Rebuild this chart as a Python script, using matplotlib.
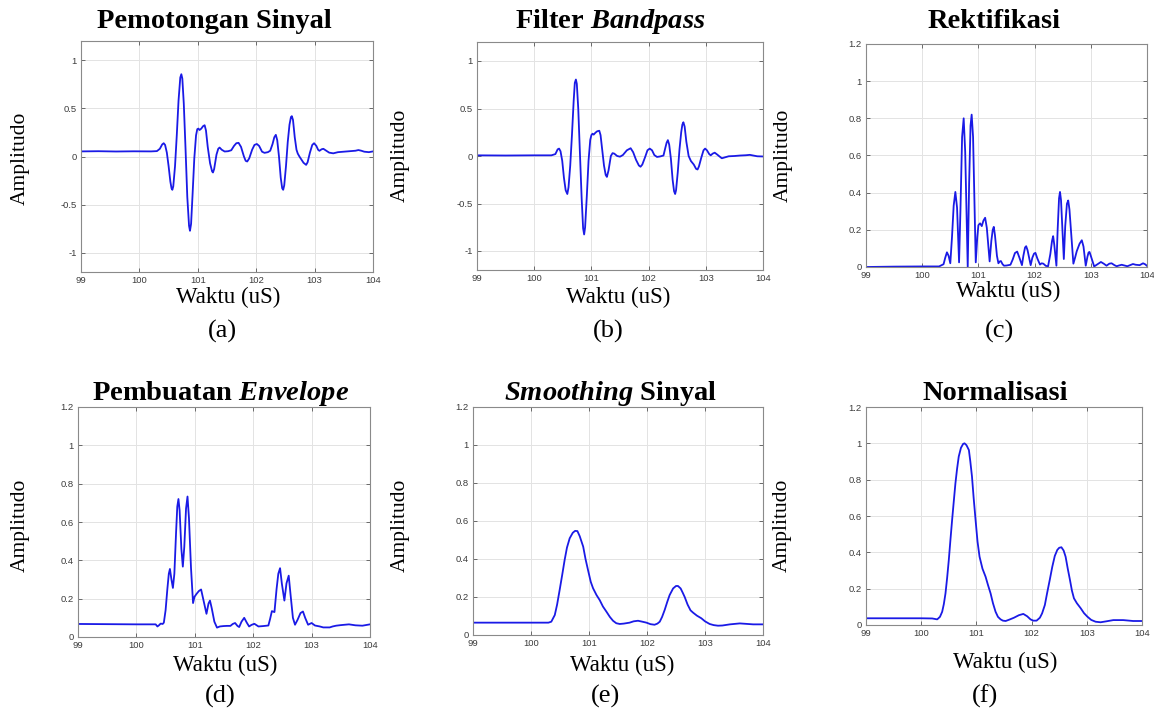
import matplotlib
matplotlib.use("Agg")
import matplotlib.pyplot as plt
from matplotlib.ticker import FormatStrFormatter

plt.rcParams['mathtext.fontset'] = 'custom'
plt.rcParams['mathtext.rm'] = 'Liberation Serif'
plt.rcParams['mathtext.it'] = 'Liberation Serif:italic'
plt.rcParams['mathtext.bf'] = 'Liberation Serif:bold'
plt.rcParams['mathtext.bfit'] = 'Liberation Serif:bold:italic'

# ---------------- data ----------------
t_a = [99.0, 99.3, 99.6, 99.9, 100.2, 100.3, 100.35, 100.39, 100.416, 100.44, 100.47, 100.5, 100.53, 100.55,
       100.564, 100.58, 100.61, 100.64, 100.67, 100.7, 100.718, 100.735, 100.76, 100.79, 100.82, 100.85,
       100.866, 100.885, 100.91, 100.94, 100.97, 100.991, 101.01, 101.03, 101.06, 101.09, 101.117, 101.14,
       101.17, 101.21, 101.245, 101.26, 101.28, 101.32, 101.35, 101.373, 101.41, 101.46, 101.52, 101.573,
       101.62, 101.66, 101.698, 101.74, 101.79, 101.82, 101.846, 101.88, 101.93, 101.97, 102.011, 102.05,
       102.1, 102.142, 102.2, 102.24, 102.28, 102.31, 102.336, 102.36, 102.39, 102.42, 102.445, 102.462,
       102.48, 102.51, 102.54, 102.57, 102.595, 102.61, 102.63, 102.66, 102.69, 102.712, 102.74, 102.77,
       102.81, 102.855, 102.88, 102.92, 102.96, 102.991, 103.03, 103.06, 103.083, 103.12, 103.15, 103.2,
       103.25, 103.32, 103.4, 103.5, 103.6, 103.7, 103.75, 103.8, 103.85, 103.93, 104.0]
v_a = [0.053, 0.055, 0.052, 0.054, 0.053, 0.056, 0.08, 0.125, 0.138, 0.12, 0.04, -0.10, -0.26, -0.33,
       -0.346, -0.31, -0.10, 0.22, 0.58, 0.82, 0.855, 0.81, 0.55, 0.08, -0.42, -0.72,
       -0.772, -0.70, -0.40, -0.02, 0.22, 0.284, 0.29, 0.275, 0.29, 0.315, 0.325, 0.27,
       0.10, -0.07, -0.155, -0.166, -0.13, 0.02, 0.08, 0.093, 0.07, 0.052, 0.055, 0.065,
       0.11, 0.138, 0.142, 0.10, 0.0, -0.045, -0.052, -0.02, 0.07, 0.12, 0.13, 0.11,
       0.05, 0.038, 0.045, 0.06, 0.13, 0.20, 0.225, 0.17, 0.0, -0.22, -0.33, -0.346,
       -0.30, -0.10, 0.15, 0.33, 0.41, 0.419, 0.38, 0.20, 0.07, 0.03, 0.0, -0.028,
       -0.065, -0.087, -0.06, 0.04, 0.12, 0.138, 0.11, 0.07, 0.059, 0.075, 0.08, 0.06,
       0.04, 0.033, 0.045, 0.05, 0.055, 0.06, 0.067, 0.06, 0.05, 0.045, 0.053]

t_b = [99.0, 99.5, 100.0, 100.3, 100.37, 100.41, 100.435, 100.46, 100.49, 100.52, 100.55, 100.579, 100.6,
       100.63, 100.66, 100.69, 100.71, 100.729, 100.745, 100.77, 100.8, 100.83, 100.855, 100.873, 100.89,
       100.92, 100.95, 100.98, 101.0, 101.02, 101.04, 101.07, 101.1, 101.138, 101.16, 101.19, 101.22,
       101.25, 101.271, 101.3, 101.34, 101.37, 101.4, 101.45, 101.5, 101.55, 101.62, 101.686, 101.73,
       101.78, 101.83, 101.859, 101.89, 101.94, 101.98, 102.02, 102.06, 102.1, 102.147, 102.2, 102.26,
       102.29, 102.315, 102.337, 102.36, 102.39, 102.42, 102.445, 102.464, 102.48, 102.51, 102.54, 102.57,
       102.59, 102.608, 102.63, 102.66, 102.7, 102.74, 102.79, 102.83, 102.856, 102.88, 102.92, 102.96,
       102.988, 103.02, 103.06, 103.086, 103.12, 103.156, 103.2, 103.23, 103.28, 103.33, 103.4, 103.5,
       103.6, 103.7, 103.77, 103.83, 103.9, 104.0]
v_b = [0.007, 0.005, 0.007, 0.007, 0.02, 0.07, 0.078, 0.05, -0.05, -0.23, -0.36, -0.40, -0.33,
       -0.10, 0.22, 0.58, 0.77, 0.805, 0.76, 0.50, 0.02, -0.45, -0.76, -0.826, -0.75,
       -0.42, -0.05, 0.17, 0.22, 0.235, 0.225, 0.245, 0.26, 0.266, 0.22, 0.06, -0.10,
       -0.20, -0.22, -0.15, 0.0, 0.03, 0.025, 0.0, -0.007, 0.01, 0.06, 0.082, 0.04,
       -0.04, -0.10, -0.113, -0.09, -0.01, 0.06, 0.078, 0.06, 0.01, -0.01, -0.005, 0.005,
       0.08, 0.14, 0.167, 0.12, -0.03, -0.25, -0.37, -0.40, -0.36, -0.17, 0.07, 0.25,
       0.33, 0.355, 0.31, 0.15, 0.0, -0.053, -0.09, -0.135, -0.142, -0.11, -0.02, 0.06,
       0.078, 0.06, 0.02, 0.007, 0.025, 0.035, 0.015, 0.0, -0.024, -0.015, -0.003, 0.0,
       0.005, 0.008, 0.012, 0.005, -0.003, -0.005]

t_c = [99.0, 99.5, 100.0, 100.3, 100.38, 100.41, 100.44, 100.47, 100.5, 100.53, 100.56, 100.59, 100.62,
       100.656, 100.68, 100.71, 100.738, 100.765, 100.81, 100.835, 100.86, 100.88, 100.905, 100.953, 100.98,
       101.0, 101.03, 101.06, 101.09, 101.12, 101.15, 101.2, 101.23, 101.255, 101.274, 101.295, 101.33,
       101.356, 101.38, 101.4, 101.43, 101.455, 101.5, 101.57, 101.61, 101.65, 101.69, 101.73, 101.775,
       101.8, 101.83, 101.85, 101.875, 101.93, 101.96, 101.99, 102.015, 102.05, 102.096, 102.125, 102.155,
       102.2, 102.24, 102.28, 102.31, 102.33, 102.35, 102.388, 102.41, 102.435, 102.452, 102.47, 102.52,
       102.545, 102.575, 102.598, 102.62, 102.69, 102.72, 102.75, 102.8, 102.84, 102.87, 102.91, 102.94,
       102.96, 102.977, 103.0, 103.06, 103.12, 103.18, 103.23, 103.28, 103.33, 103.37, 103.42, 103.46,
       103.5, 103.55, 103.6, 103.65, 103.7, 103.75, 103.8, 103.87, 103.93, 103.97, 104.0]
v_c = [0.0, 0.002, 0.003, 0.003, 0.015, 0.05, 0.079, 0.06, 0.02, 0.16, 0.33, 0.404, 0.32,
       0.025, 0.30, 0.70, 0.80, 0.62, 0.0, 0.45, 0.76, 0.82, 0.70, 0.025, 0.16,
       0.225, 0.235, 0.22, 0.25, 0.265, 0.21, 0.03, 0.14, 0.20, 0.216, 0.17, 0.06,
       0.02, 0.03, 0.032, 0.015, 0.007, 0.008, 0.012, 0.04, 0.075, 0.083, 0.05, 0.01,
       0.06, 0.105, 0.112, 0.09, 0.01, 0.05, 0.072, 0.076, 0.045, 0.013, 0.02, 0.018,
       0.006, 0.004, 0.07, 0.14, 0.166, 0.12, 0.007, 0.20, 0.37, 0.404, 0.36, 0.043,
       0.22, 0.34, 0.358, 0.31, 0.018, 0.05, 0.085, 0.125, 0.144, 0.11, 0.007, 0.055,
       0.078, 0.081, 0.06, 0.003, 0.015, 0.027, 0.018, 0.007, 0.018, 0.02, 0.01, 0.004,
       0.008, 0.012, 0.008, 0.004, 0.01, 0.016, 0.012, 0.01, 0.02, 0.014, 0.006]

t_d = [99.0, 99.5, 100.0, 100.33, 100.36, 100.39, 100.415, 100.45, 100.47, 100.5, 100.53, 100.555, 100.574,
       100.6, 100.625, 100.65, 100.68, 100.7, 100.72, 100.74, 100.77, 100.795, 100.82, 100.85, 100.875,
       100.9, 100.935, 100.97, 100.995, 101.03, 101.07, 101.108, 101.15, 101.2, 101.235, 101.26, 101.29,
       101.335, 101.38, 101.43, 101.49, 101.55, 101.61, 101.65, 101.69, 101.73, 101.76, 101.8, 101.846,
       101.89, 101.93, 101.97, 102.02, 102.09, 102.17, 102.26, 102.29, 102.32, 102.364, 102.4, 102.43,
       102.46, 102.49, 102.534, 102.57, 102.608, 102.64, 102.68, 102.716, 102.76, 102.81, 102.852, 102.89,
       102.94, 103.0, 103.057, 103.14, 103.2, 103.31, 103.36, 103.42, 103.5, 103.64, 103.75, 103.87, 104.0]
v_d = [0.068, 0.067, 0.066, 0.066, 0.055, 0.062, 0.07, 0.068, 0.075, 0.14, 0.25, 0.33, 0.355,
       0.30, 0.256, 0.33, 0.55, 0.68, 0.72, 0.66, 0.46, 0.367, 0.47, 0.67, 0.733,
       0.62, 0.36, 0.177, 0.21, 0.225, 0.24, 0.248, 0.19, 0.121, 0.175, 0.19, 0.15,
       0.08, 0.049, 0.055, 0.057, 0.058, 0.058, 0.068, 0.073, 0.058, 0.052, 0.08, 0.10,
       0.075, 0.055, 0.063, 0.069, 0.055, 0.057, 0.06, 0.095, 0.135, 0.13, 0.25, 0.33,
       0.359, 0.28, 0.19, 0.28, 0.32, 0.22, 0.10, 0.064, 0.09, 0.125, 0.133, 0.10,
       0.064, 0.073, 0.06, 0.055, 0.05, 0.05, 0.055, 0.059, 0.062, 0.066, 0.061, 0.059, 0.066]

t_e = [99.0, 99.5, 100.0, 100.3, 100.35, 100.41, 100.45, 100.494, 100.54, 100.58, 100.62, 100.667, 100.72,
       100.76, 100.8, 100.84, 100.9, 100.94, 100.983, 101.03, 101.07, 101.13, 101.184, 101.24, 101.3,
       101.36, 101.414, 101.47, 101.53, 101.6, 101.7, 101.77, 101.845, 101.92, 101.99, 102.06, 102.13,
       102.18, 102.22, 102.26, 102.305, 102.35, 102.39, 102.45, 102.5, 102.534, 102.58, 102.62, 102.65,
       102.7, 102.75, 102.793, 102.86, 102.937, 103.0, 103.08, 103.15, 103.224, 103.3, 103.43, 103.6,
       103.83, 104.0]
v_e = [0.065, 0.065, 0.065, 0.065, 0.07, 0.105, 0.16, 0.237, 0.32, 0.395, 0.46, 0.509, 0.538,
       0.548, 0.547, 0.52, 0.465, 0.40, 0.342, 0.28, 0.246, 0.21, 0.184, 0.15, 0.123,
       0.095, 0.075, 0.062, 0.058, 0.06, 0.065, 0.072, 0.075, 0.07, 0.065, 0.057, 0.054,
       0.06, 0.07, 0.095, 0.132, 0.175, 0.21, 0.245, 0.258, 0.258, 0.245, 0.22, 0.2,
       0.16, 0.13, 0.118, 0.102, 0.088, 0.072, 0.058, 0.052, 0.049, 0.05, 0.056, 0.061,
       0.056, 0.056]

t_f = [99.0, 99.5, 100.0, 100.2, 100.29, 100.34, 100.38, 100.41, 100.44, 100.47, 100.5, 100.53, 100.56,
       100.59, 100.62, 100.65, 100.68, 100.72, 100.76, 100.785, 100.82, 100.864, 100.89, 100.92, 100.95,
       100.985, 101.02, 101.057, 101.11, 101.166, 101.21, 101.257, 101.3, 101.347, 101.39, 101.438, 101.48,
       101.53, 101.6, 101.68, 101.77, 101.85, 101.92, 101.98, 102.03, 102.09, 102.15, 102.19, 102.24,
       102.28, 102.33, 102.375, 102.42, 102.465, 102.5, 102.54, 102.58, 102.616, 102.655, 102.695, 102.73,
       102.767, 102.82, 102.89, 102.95, 103.01, 103.08, 103.16, 103.25, 103.35, 103.48, 103.66, 103.84,
       104.0]
v_f = [0.037, 0.037, 0.037, 0.036, 0.031, 0.045, 0.073, 0.115, 0.174, 0.26, 0.358, 0.47, 0.578,
       0.68, 0.78, 0.86, 0.927, 0.975, 0.997, 1.0, 0.99, 0.963, 0.90, 0.817, 0.70,
       0.578, 0.46, 0.376, 0.31, 0.266, 0.22, 0.174, 0.12, 0.073, 0.045, 0.031, 0.024,
       0.022, 0.03, 0.04, 0.054, 0.061, 0.048, 0.031, 0.024, 0.024, 0.04, 0.064, 0.11,
       0.174, 0.25, 0.321, 0.38, 0.413, 0.425, 0.428, 0.41, 0.376, 0.31, 0.248, 0.19,
       0.147, 0.12, 0.092, 0.065, 0.046, 0.028, 0.018, 0.015, 0.02, 0.027, 0.027, 0.022,
       0.022]

x_ticks = [99, 100, 101, 102, 103, 104]
y_ticks_signed = [-1, -0.5, 0, 0.5, 1]
y_ticks_pos = [0, 0.2, 0.4, 0.6, 0.8, 1.0, 1.2]

titles = ["Pemotongan Sinyal", r"Filter $\mathbfit{Bandpass}$", "Rektifikasi",
          r"Pembuatan $\mathbfit{Envelope}$", r"$\mathbfit{Smoothing}$ Sinyal", "Normalisasi"]
letters = ["(a)", "(b)", "(c)", "(d)", "(e)", "(f)"]

# ---------------- layout (pixels) ----------------
W, H = 1154, 710
fig = plt.figure(figsize=(W / 100, H / 100), dpi=100)

boxes = [(81, 373, 41, 272), (477, 763, 42, 270), (866, 1147, 44, 267),
         (78, 370, 407, 637), (473, 763, 407, 635), (866, 1142, 407, 625)]
title_pos = [(214, 22), (610, 22), (994, 22), (221, 393), (610, 393), (995, 393)]
xlabel_pos = [(228, 297), (618, 297), (1008, 291), (225, 665), (622, 665), (1005, 662)]
letter_pos = [(222, 331), (608, 331), (1000, 331), (220, 696), (605, 696), (985, 696)]
ylabel_pos = [(20, 158), (400, 155), (783, 155), (20, 525), (400, 525), (782, 525)]

series = [(t_a, v_a), (t_b, v_b), (t_c, v_c), (t_d, v_d), (t_e, v_e), (t_f, v_f)]

serif = 'Liberation Serif'
for i, ((l, r, tp, bt), (tx, vy)) in enumerate(zip(boxes, series)):
    ax = fig.add_axes([l / W, 1 - bt / H, (r - l) / W, (bt - tp) / H])
    ax.plot(tx, vy, color='#1a1ae6', lw=1.3, solid_joinstyle='round')
    ax.set_xlim(99, 104)
    ax.set_xticks(x_ticks)
    if i < 2:
        ax.set_ylim(-1.2, 1.2)
        ax.set_yticks(y_ticks_signed)
    else:
        ax.set_ylim(0, 1.2)
        ax.set_yticks(y_ticks_pos)
    ax.yaxis.set_major_formatter(FormatStrFormatter('%g'))
    ax.grid(True, color='#e3e3e3', lw=0.7)
    ax.set_axisbelow(True)
    for s in ax.spines.values():
        s.set_color('#8a8a8a')
        s.set_linewidth(0.8)
    ax.tick_params(direction='in', length=3, width=0.6, color='#555555', labelsize=6.8,
                   labelcolor='#3c3c3c', top=True, right=True, pad=3)
    for lab in ax.get_xticklabels() + ax.get_yticklabels():
        lab.set_family('Liberation Sans')

    fig.text(title_pos[i][0] / W, 1 - title_pos[i][1] / H, titles[i], ha='center', va='center',
             fontsize=20.5, fontweight='bold', family=serif)
    fig.text(xlabel_pos[i][0] / W, 1 - xlabel_pos[i][1] / H, "Waktu (uS)", ha='center', va='center',
             fontsize=16.5, family=serif)
    fig.text(letter_pos[i][0] / W, 1 - letter_pos[i][1] / H, letters[i], ha='center', va='center',
             fontsize=19, family=serif)
    fig.text(ylabel_pos[i][0] / W, 1 - ylabel_pos[i][1] / H, "Amplitudo", ha='center', va='center',
             fontsize=15.5, family=serif, rotation=90)

fig.savefig("out.png", dpi=100)
